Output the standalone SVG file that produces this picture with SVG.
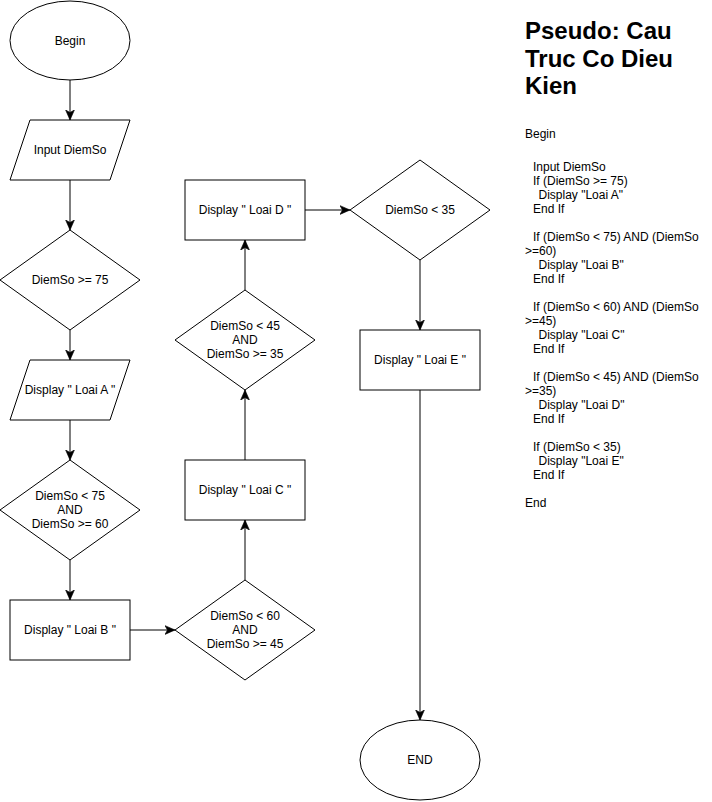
<svg xmlns="http://www.w3.org/2000/svg" width="712" height="802" viewBox="0 0 712 802">
<style>
.s{fill:#fff;stroke:#000;stroke-width:1}
.t{font-family:"Liberation Sans",Arial,Helvetica,sans-serif;font-size:12px;fill:#000;text-anchor:middle}
.p{font-family:"Liberation Sans",Arial,Helvetica,sans-serif;font-size:12px;fill:#000}
.h{font-family:"Liberation Sans",Arial,Helvetica,sans-serif;font-size:24px;font-weight:bold;fill:#000}
.c{fill:none;stroke:#000;stroke-width:1;marker-end:url(#a)}
</style>
<defs>
<marker id="a" markerUnits="userSpaceOnUse" markerWidth="10" markerHeight="10" viewBox="0 0 8 7" refX="8" refY="3.5" orient="auto">
<path d="M0,0 L8,3.5 L0,7 L2,3.5 Z" fill="#000" stroke="#000" stroke-width="0.5"/>
</marker>
</defs>
<rect width="712" height="802" fill="#fff"/>
<g id="connectors">
<path class="c" d="M70,80 V120"/>
<path class="c" d="M70,180 V230"/>
<path class="c" d="M70,330 V360"/>
<path class="c" d="M70,420 V460"/>
<path class="c" d="M70,560 V600"/>
<path class="c" d="M130,630 H175"/>
<path class="c" d="M245,580 V520"/>
<path class="c" d="M245,460 V390"/>
<path class="c" d="M245,290 V240"/>
<path class="c" d="M305,210 H350"/>
<path class="c" d="M420,260 V330"/>
<path class="c" d="M420,390 V720"/>
</g>
<g id="begin"><ellipse class="s" cx="70" cy="40.5" rx="60" ry="39.5"/><text class="t" x="70" y="45">Begin</text></g>
<g id="input"><polygon class="s" points="30,120 130,120 110,180 10,180"/><text class="t" x="70" y="154">Input DiemSo</text></g>
<g id="cond75"><polygon class="s" points="70,230 140,280 70,330 0,280"/><text class="t" x="70" y="284">DiemSo &gt;= 75</text></g>
<g id="loaiA"><polygon class="s" points="30,360 130,360 110,420 10,420"/><text class="t" x="70" y="394">Display " Loai A "</text></g>
<g id="cond60"><polygon class="s" points="70,460 140,510 70,560 0,510"/><text class="t" x="70" y="500">DiemSo &lt; 75</text><text class="t" x="70" y="514">AND</text><text class="t" x="70" y="528">DiemSo &gt;= 60</text></g>
<g id="loaiB"><rect class="s" x="10" y="600" width="120" height="60"/><text class="t" x="70" y="634">Display " Loai B "</text></g>
<g id="cond45"><polygon class="s" points="245,580 315,630 245,680 175,630"/><text class="t" x="245" y="620">DiemSo &lt; 60</text><text class="t" x="245" y="634">AND</text><text class="t" x="245" y="648">DiemSo &gt;= 45</text></g>
<g id="loaiC"><rect class="s" x="185" y="460" width="120" height="60"/><text class="t" x="245" y="494">Display " Loai C "</text></g>
<g id="cond35"><polygon class="s" points="245,290 315,340 245,390 175,340"/><text class="t" x="245" y="330">DiemSo &lt; 45</text><text class="t" x="245" y="344">AND</text><text class="t" x="245" y="358">DiemSo &gt;= 35</text></g>
<g id="loaiD"><rect class="s" x="185" y="180" width="120" height="60"/><text class="t" x="245" y="214">Display " Loai D "</text></g>
<g id="condE"><polygon class="s" points="420,160 490,210 420,260 350,210"/><text class="t" x="420" y="214">DiemSo &lt; 35</text></g>
<g id="loaiE"><rect class="s" x="360" y="330" width="120" height="60"/><text class="t" x="420" y="364">Display " Loai E "</text></g>
<g id="end"><ellipse class="s" cx="420" cy="760" rx="60" ry="40"/><text class="t" x="420" y="764">END</text></g>
<g id="pseudo">
<text class="h" x="525" y="39">Pseudo: Cau</text>
<text class="h" x="525" y="66.5">Truc Co Dieu</text>
<text class="h" x="525" y="94">Kien</text>
<text class="p" x="525" y="138">Begin</text>
<text class="p" x="533" y="171">Input DiemSo</text>
<text class="p" x="533" y="185">If (DiemSo &gt;= 75)</text>
<text class="p" x="538.5" y="199">Display "Loai A"</text>
<text class="p" x="533" y="213">End If</text>
<text class="p" x="533" y="241">If (DiemSo &lt; 75) AND (DiemSo</text>
<text class="p" x="525" y="255">&gt;=60)</text>
<text class="p" x="538.5" y="269">Display "Loai B"</text>
<text class="p" x="533" y="283">End If</text>
<text class="p" x="533" y="311">If (DiemSo &lt; 60) AND (DiemSo</text>
<text class="p" x="525" y="325">&gt;=45)</text>
<text class="p" x="538.5" y="339">Display "Loai C"</text>
<text class="p" x="533" y="353">End If</text>
<text class="p" x="533" y="381">If (DiemSo &lt; 45) AND (DiemSo</text>
<text class="p" x="525" y="395">&gt;=35)</text>
<text class="p" x="538.5" y="409">Display "Loai D"</text>
<text class="p" x="533" y="423">End If</text>
<text class="p" x="533" y="451">If (DiemSo &lt; 35)</text>
<text class="p" x="538.5" y="465">Display "Loai E"</text>
<text class="p" x="533" y="479">End If</text>
<text class="p" x="525" y="507">End</text>
</g>
</svg>
